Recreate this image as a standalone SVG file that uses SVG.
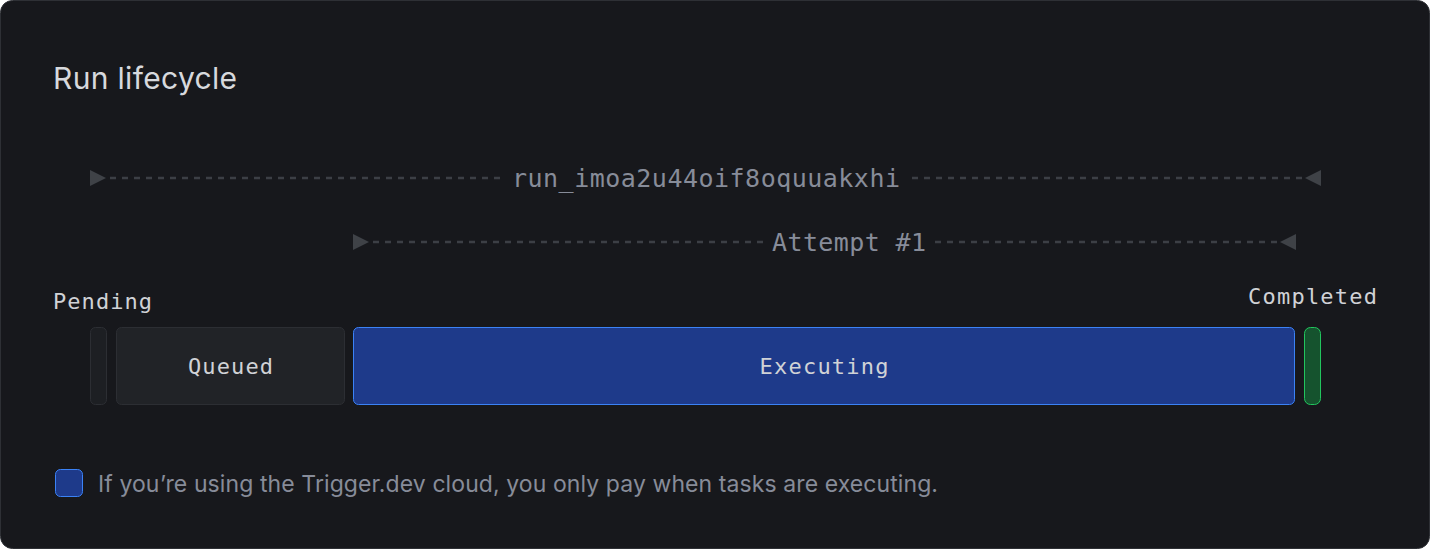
<svg xmlns="http://www.w3.org/2000/svg" width="1430" height="549" viewBox="0 0 1430 549">
<defs>
<style>
.mono{font-family:"DejaVu Sans Mono","Liberation Mono",monospace}
.sans{font-family:Inter,"Liberation Sans",sans-serif}
.dash{stroke:#3c3f45;stroke-width:2.5;stroke-dasharray:6 6;fill:none}
.tri{fill:#3f4247}
.lbl{fill:#878c99;font-size:25px}
.state{fill:#d0d2d6;font-size:22px}
</style>
</defs>
<rect x="0" y="0" width="1430" height="549" fill="#ffffff"/>
<rect x="0.5" y="0.5" width="1429" height="548" rx="12" fill="#17181c" stroke="#2e3035"/>
<text class="sans" x="53" y="89" font-size="30" fill="#d7d9dd" textLength="184" lengthAdjust="spacing">Run lifecycle</text>
<g id="connectors">
<polygon class="tri" points="90,170 106,178 90,186"/>
<line class="dash" x1="110" y1="178" x2="500" y2="178"/>
<line class="dash" x1="912" y1="178" x2="1302" y2="178"/>
<polygon class="tri" points="1321,170 1305,178 1321,186"/>
<text class="mono lbl" x="706" y="187" text-anchor="middle" textLength="388" lengthAdjust="spacing">run_imoa2u44oif8oquuakxhi</text>
<polygon class="tri" points="353,234 369,242 353,250"/>
<line class="dash" x1="373" y1="242" x2="763" y2="242"/>
<line class="dash" x1="935" y1="242" x2="1277" y2="242"/>
<polygon class="tri" points="1296,234 1280,242 1296,250"/>
<text class="mono lbl" x="849" y="251" text-anchor="middle" textLength="154" lengthAdjust="spacing">Attempt #1</text>
</g>
<g id="pending">
<text class="mono state" x="53" y="309" textLength="99" lengthAdjust="spacing">Pending</text>
<rect x="90.5" y="327.5" width="16" height="77" rx="5" fill="#1d1f23" stroke="#2c2e33"/>
</g>
<g id="queued">
<rect x="116.5" y="327.5" width="228" height="77" rx="5" fill="#212327" stroke="#2c2e33"/>
<text class="mono state" x="230.5" y="374" text-anchor="middle" textLength="85" lengthAdjust="spacing">Queued</text>
</g>
<g id="executing">
<rect x="353.5" y="327.5" width="941" height="77" rx="5" fill="#1e3a8a" stroke="#3b82f6"/>
<text class="mono state" x="824" y="374" text-anchor="middle" textLength="129" lengthAdjust="spacing">Executing</text>
</g>
<g id="completed">
<text class="mono state" x="1248" y="304" textLength="129" lengthAdjust="spacing">Completed</text>
<rect x="1304.5" y="327.5" width="16" height="77" rx="6" fill="#15532e" stroke="#22c55e"/>
</g>
<g id="note">
<rect x="55.5" y="469.5" width="27" height="27" rx="5" fill="#1e3a8a" stroke="#3b82f6"/>
<text class="sans" x="98" y="492" font-size="23" fill="#878c99" textLength="840" lengthAdjust="spacing">If you’re using the Trigger.dev cloud, you only pay when tasks are executing.</text>
</g>
</svg>
